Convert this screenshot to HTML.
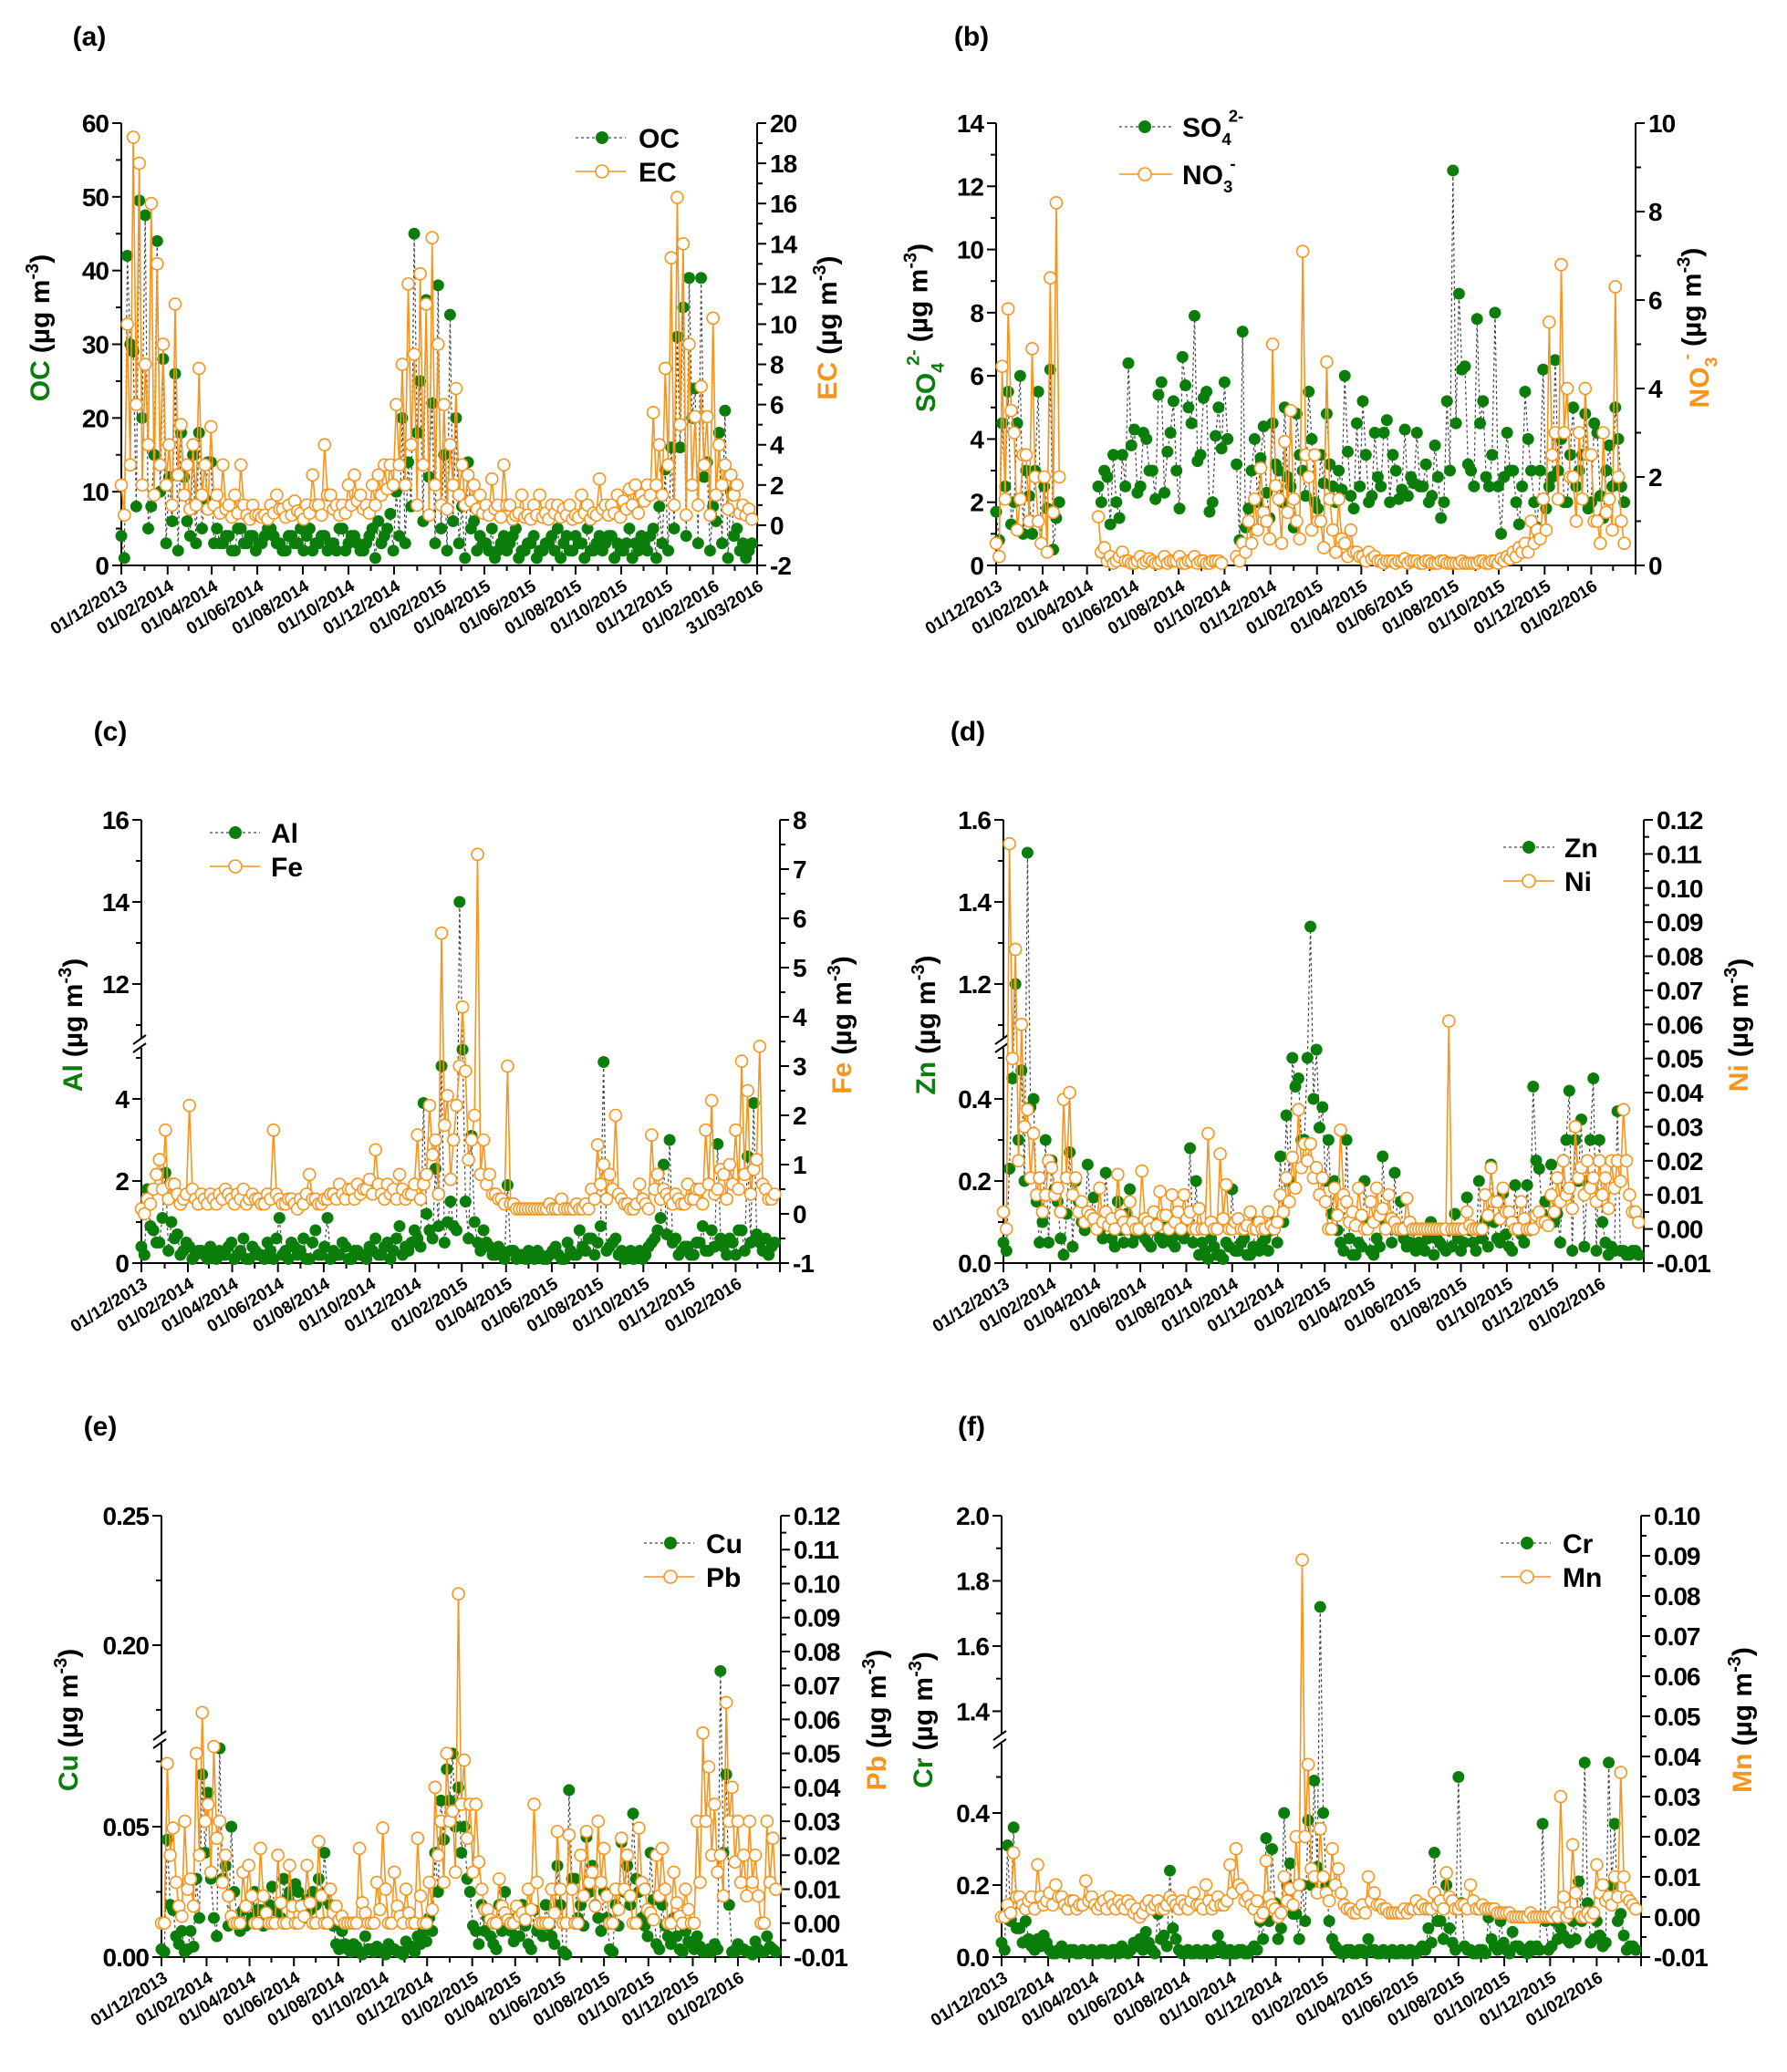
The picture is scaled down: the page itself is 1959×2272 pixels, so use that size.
<!DOCTYPE html>
<html><head><meta charset="utf-8"><style>
html,body{margin:0;padding:0;background:#fff}
svg{display:block;font-family:"Liberation Sans",Arial,sans-serif;font-weight:bold}
</style></head><body>
<svg id="fig" width="1959" height="2272" viewBox="0 0 1959 2272" xmlns="http://www.w3.org/2000/svg"></svg>
<script>
const days=[0,8,16,24,32,40,48,56,64,72,80,88,96,104,112,120,128,136,144,152,160,168,176,184,192,200,208,216,224,232,240,248,256,264,272,280,288,296,304,312,320,328,336,344,352,360,368,376,384,392,400,408,416,424,432,440,448,456,464,472,480,488,496,504,512,520,528,536,544,552,560,568,576,584,592,600,608,616,624,632,640,648,656,664,672,680,688,696,704,712,720,728,736,744,752,760,768,776,784,792,800,808,816,824,832,840];
const midDays=[4,12,20,28,36,44,52,60,68,76,84,92,100,108,116,124,132,140,148,156,164,172,180,188,196,204,212,220,228,236,244,252,260,268,276,284,292,300,308,316,324,332,340,348,356,364,372,380,388,396,404,412,420,428,436,444,452,460,468,476,484,492,500,508,516,524,532,540,548,556,564,572,580,588,596,604,612,620,628,636,644,652,660,668,676,684,692,700,708,716,724,732,740,748,756,764,772,780,788,796,804,812,820,828,836,844];
const tickDays=[0,62,121,182,243,304,365,427,486,547,608,669,730,792];
const tickLabels=["01/12/2013","01/02/2014","01/04/2014","01/06/2014","01/08/2014","01/10/2014","01/12/2014","01/02/2015","01/04/2015","01/06/2015","01/08/2015","01/10/2015","01/12/2015","01/02/2016"];
const minorDays=[31,90,151,212,273,334,396,455,516,577,638,699,761,821,851];
const n=null;
const ocValues=[4,42,29,49.5,47.5,8,44,28,12,26,18,6,15,18,9,14,
5,3,4,2,5,3,4,3,4,5,3,2,4,3,5,4,2,3,4,3,2,5,3,4,2,3,5,6,4,7,
10,20,14,45,25,36,22,38,15,34,20,8,14,6,4,
3,5,2,4,3,5,2,3,4,2,3,4,5,3,2,4,3,5,2,4,3,4,3,2,5,3,4,2,5,8,
13,16,31,35,39,24,39,14,8,18,21,10,5,3,2];
const ocMid=[1,30,8,20,5,15,10,3,6,2,12,4,3,5,14,3,
3,4,2,5,3,4,2,3,5,4,3,2,4,3,2,5,3,4,2,3,5,2,4,3,2,4,1,3,5,2,
4,3,8,18,6,12,3,5,2,6,3,1,5,2,3,
2,1,3,2,4,1,2,3,1,2,3,2,1,4,2,3,1,2,3,2,4,1,2,3,1,2,3,4,1,3,
2,5,16,4,20,3,12,2,6,3,1,4,2,1,3];
const ecValues=[2,10,19.3,18,8,16,13,9,4,11,5,3,4,7.8,3,4.9,
1.5,3,1,1.5,3,0.5,1,0.5,0.5,1,1.5,0.8,1,1.2,0.6,1,2.5,1,4,1.5,1,1,2,2.5,1.5,1,2,2.5,3,3,
6,8,12,8.5,12.5,11,14.3,9,6,4,6.8,3,2.5,2,1.5,
1,2.3,1,3,1,0.5,1.5,0.5,1,1.5,0.6,1,1,0.8,1,0.5,1.5,1,0.6,2.3,1,1,1.5,1.2,1.8,2,1.5,2,5.6,4,
7.8,13.3,16.3,14,9,5.4,6.9,5.4,10.3,4,3,2.5,2,1,0.8];
const ecMid=[0.5,3,6,2,4,1.5,3,2,1,2.5,1.5,0.8,1,1.5,0.8,1,
0.6,0.8,0.4,0.6,1,0.3,0.5,0.4,0.3,0.6,0.8,0.4,0.5,0.7,0.3,0.6,1,0.5,1.5,0.8,0.5,0.6,1,1.2,0.8,0.6,1,1.5,1.8,2,
3,2,4,1,3,0.5,2,1,0.8,2,1.5,1,1.2,0.8,0.6,
0.5,0.8,0.4,1,0.3,0.6,0.4,0.3,0.5,0.4,0.3,0.6,0.4,0.5,0.3,0.4,0.6,0.3,0.5,0.8,0.5,0.6,0.4,0.8,1,0.6,1.2,1.5,2,1.5,
3,1,5,0.5,2,1,3,0.5,1.5,2,0.8,1.5,0.6,0.5,0.3];
const so4Values=[1.7,4.5,5.5,2,6,3,1,5.5,2.5,6.2,1.5,n,n,n,n,n,n,
2.5,3,1.3,2,3.5,6.4,4.3,2.5,4,3,5.4,2.3,4.2,3,6.6,5,7.9,3.5,5.5,2,5,5.8,n,
3.2,7.4,1.8,4,3.4,2.3,4.5,3,5,2.5,4.8,3,5.5,2,3.5,4.8,2.5,3,6,2.2,4.5,5.2,2,4.2,2.5,4.6,3.5,2.1,4.3,2.8,
4.2,2.5,2,3.8,1.5,5.2,12.5,8.6,6.3,3,7.8,5.2,2.5,8,1,4.2,3,1.3,5.5,3,1.2,6.2,2.5,6.5,4,2,
5,3,4.8,2,4.2,1.5,3.8,5,2.5,n];
const so4Mid=[0.8,2.5,1.3,4.5,1,2.2,3,0.7,1.8,0.5,2,n,n,n,n,n,n,
2,2.8,3.5,1.5,2.5,3.8,2.3,4.2,3,2.1,5.8,3.6,5.2,1.8,5.7,4.5,3.3,5.3,1.7,4.1,3.7,4,n,
0.8,1.2,3,2,4.4,1.5,3.2,2,2.8,1.2,3.5,2.2,4,1.8,2.6,3.2,2,2.4,3.6,1.8,2.5,3.5,2.2,2.8,4.2,2,3,2.4,2.2,2.6,
2.5,3.2,2.2,2.8,2,3,4.5,6.2,3.2,2.5,4.5,2.8,3.5,2.5,2.8,3,2,2.5,4,2,3,1.8,2.8,3,2,3.5,
2.5,3.5,1.8,4.5,2.2,3,2.5,4,2,n];
const no3Values=[0.5,4.5,5.8,3,1.5,2.5,4.9,1,2,6.5,8.2,n,n,n,n,n,n,
1.1,0.4,0.2,0.1,0.3,0.1,0.05,0.2,0.1,0.1,0.05,0.2,0.1,0.1,0.05,0.1,0.2,0.1,0.05,0.1,0.1,n,n,
0.2,0.5,1,1.5,2.2,1,5,1.5,2.8,3.5,1,7.1,2,2.5,1,4.6,0.8,1.5,0.5,0.8,0.3,0.2,0.3,0.2,0.1,0.1,0.1,0.1,0.15,0.1,
0.1,0.05,0.1,0.05,0.1,0.05,0.05,0.05,0.05,0.05,0.05,0.1,0.05,0.1,0.15,0.2,0.3,0.4,0.5,1,0.8,1.5,5.5,3,6.8,4,
2,3,4,2.5,1,3,1.5,6.3,1,n];
const no3Mid=[0.2,1.5,3.5,0.8,2.5,1,2,0.5,0.3,1.2,2,n,n,n,n,n,n,
0.3,0.1,0.05,0.2,0.1,0.05,0.1,0.05,0.15,0.05,0.1,0.05,0.1,0.2,0.05,0.1,0.05,0.1,0.05,0.1,0.05,n,n,
0.1,0.3,0.5,0.8,1.2,0.6,1.8,0.5,1.2,1.5,0.6,2.5,0.8,1,0.4,1.5,0.3,0.6,0.2,0.3,0.2,0.1,0.15,0.1,0.05,0.1,0.05,0.1,0.05,0.1,
0.05,0.1,0.05,0.05,0.1,0.05,0.05,0.1,0.05,0.05,0.1,0.05,0.1,0.05,0.1,0.15,0.2,0.3,0.3,0.5,0.6,0.8,2.5,1.5,3,2,
1,1.5,2.5,1,0.5,1.2,0.8,2,0.5,n];
const alValues=[0.4,1.8,0.8,0.5,2.2,1,0.7,0.3,0.4,0.2,0.3,0.1,0.2,0.3,0.2,0.5,
0.2,0.6,0.1,0.3,0.2,0.5,0.1,1.1,0.3,0.5,0.2,0.6,0.1,0.8,0.2,1.1,0.3,0.2,0.4,0.1,0.3,0.2,0.4,0.6,0.2,0.5,0.3,0.9,0.4,0.5,
0.6,3.9,0.8,2.3,4.8,1,0.9,14,1.5,3.1,0.5,0.8,0.4,0.2,0.3,
1.9,0.3,0.2,0.1,0.2,0.3,0.1,0.2,0.4,0.1,0.5,0.2,0.8,0.3,0.6,0.5,4.9,0.4,0.6,0.3,0.2,0.1,0.3,0.2,0.5,0.8,2.4,3,0.6,0.3,
0.4,0.2,0.5,0.3,0.8,2.9,0.4,0.6,0.2,0.8,2.6,3.9,0.5,0.6,0.4];
const alMid=[0.2,0.9,0.5,1.1,0.3,0.6,0.2,0.5,0.1,0.3,0.2,0.4,0.1,0.2,0.4,0.1,
0.3,0.1,0.4,0.2,0.1,0.3,0.6,0.2,0.1,0.4,0.3,0.1,0.5,0.2,0.4,0.1,0.2,0.5,0.1,0.3,0.2,0.1,0.3,0.2,0.4,0.1,0.6,0.2,0.3,0.8,
0.4,1.2,0.6,0.9,0.5,1.5,0.8,5.2,0.6,1,0.3,0.5,0.2,0.4,0.1,
0.3,0.1,0.2,0.3,0.1,0.2,0.1,0.3,0.2,0.1,0.3,0.2,0.4,0.6,0.2,0.9,0.3,0.5,0.2,0.1,0.3,0.2,0.1,0.4,0.6,1.1,0.7,0.5,0.2,0.4,
0.2,0.5,0.9,0.3,0.4,0.6,0.2,0.5,0.8,0.3,0.5,0.7,0.3,0.2,0.5];
const feValues=[0.1,0.3,0.5,1.1,1.7,0.6,0.4,0.3,2.2,0.3,0.4,0.2,0.3,0.4,0.5,0.3,
0.4,0.5,0.3,0.3,0.2,0.4,1.7,0.3,0.2,0.3,0.1,0.2,0.8,0.3,0.2,0.3,0.4,0.6,0.3,0.5,0.6,0.5,0.7,1.3,0.4,0.6,0.5,0.8,0.3,0.4,
1.6,0.6,2.2,1.5,5.7,2.4,1.5,3,2.9,1.5,7.3,1.5,0.8,0.4,0.3,
3,0.2,0.1,0.1,0.1,0.1,0.1,0.2,0.1,0.3,0.1,0.1,0.1,0.2,0.5,1.4,1,0.8,2,0.3,0.2,0.1,0.6,0.2,1.6,0.8,0.5,0.3,0.4,0.2,
0.6,0.3,0.5,1.7,2.3,0.5,0.8,1,1.7,3.1,2.5,0.9,3.4,0.5,0.3];
const feMid=[0,0.2,0.8,0.5,0.3,0.6,0.2,0.4,0.5,0.2,0.3,0.4,0.2,0.3,0.4,0.2,
0.3,0.2,0.4,0.3,0.2,0.3,0.4,0.2,0.3,0.2,0.3,0.4,0.3,0.2,0.3,0.4,0.3,0.4,0.5,0.3,0.4,0.5,0.4,0.6,0.3,0.4,0.3,0.5,0.4,0.6,
0.3,0.8,1.2,0.4,1.8,0.7,2.2,4.2,1.1,2,0.8,0.6,0.4,0.3,0.2,
0.2,0.1,0.1,0.1,0.1,0.1,0.1,0.1,0.1,0.1,0.1,0.2,0.1,0.1,0.3,0.6,0.3,0.5,0.4,0.2,0.1,0.2,0.3,0.1,0.5,0.3,0.4,0.2,0.3,0.2,
0.3,0.5,0.2,0.6,0.4,0.9,0.3,0.6,0.5,0.8,0.4,1.1,0.6,0.3,0.4];
const znValues=[0.05,0.23,1.2,0.47,1.52,0.4,0.05,0.3,0.25,0.15,0.02,0.27,0.2,0.1,0.24,0.16,
0.08,0.22,0.06,0.15,0.05,0.18,0.07,0.1,0.05,0.08,0.06,0.1,0.05,0.07,0.06,0.28,0.2,0.05,0.01,0.04,0.02,0.05,0.18,0.03,0.06,0.02,0.1,0.05,0.03,0.1,
0.26,0.36,0.5,0.45,0.3,1.34,0.52,0.38,0.3,0.2,0.05,0.3,0.02,0.05,0.2,
0.03,0.06,0.26,0.1,0.22,0.15,0.04,0.08,0.05,0.03,0.1,0.06,0.04,0.08,0.12,0.03,0.16,0.05,0.2,0.1,0.24,0.06,0.17,0.04,0.19,0.07,0.19,0.43,0.23,0.15,
0.24,0.12,0.25,0.42,0.3,0.35,0.2,0.45,0.3,0.05,0.04,0.37,0.03,0.02,0.03];
const znMid=[0.03,0.45,0.3,0.2,0.38,0.15,0.1,0.05,0.18,0.06,0.12,0.04,0.15,0.08,0.12,0.1,
0.06,0.1,0.04,0.08,0.12,0.05,0.09,0.06,0.04,0.1,0.05,0.07,0.04,0.12,0.08,0.05,0.02,0.03,0.06,0.02,0.01,0.04,0.03,0.05,0.02,0.04,0.03,0.06,0.08,0.05,
0.1,0.2,0.43,0.3,0.5,0.4,0.33,0.2,0.12,0.08,0.03,0.06,0.02,0.04,0.1,
0.02,0.04,0.1,0.05,0.08,0.06,0.05,0.03,0.04,0.06,0.02,0.05,0.03,0.04,0.06,0.05,0.08,0.03,0.06,0.04,0.1,0.05,0.07,0.03,0.1,0.05,0.08,0.25,0.12,0.1,
0.1,0.05,0.3,0.03,0.2,0.04,0.3,0.03,0.1,0.02,0.03,0.03,0.02,0.03,0.02];
const niValues=[0.005,0.113,0.082,0.06,0.035,0.028,0.015,0.01,0.018,0.012,0.038,0.04,0.015,0.008,0.005,0.003,
0.012,0.005,0.003,0.016,0.002,0.008,0,0.017,0.002,0.005,0.011,0.004,0.01,0.005,0.01,0.005,0,0,0.028,0,0.022,0.013,0,0.003,0,0.005,0,0,0.005,0,
0.01,0.015,0.021,0.035,0.025,0.025,0.018,0.015,0,0.012,0.029,0.008,0.005,0.012,0,
0.008,0.012,0.006,0.01,0.002,0,0.009,0,0,0,0,0,0,0.061,0,0,0.005,0,0,0.01,0.018,0.008,0.012,0.005,0,0.008,0,0,0.005,0.002,
0.01,0.015,0.02,0.012,0.03,0.018,0.02,0.015,0.02,0.015,0.02,0.02,0.035,0.01,0.005];
const niMid=[0,0.05,0.02,0.03,0.015,0.01,0.005,0.02,0.01,0.005,0.015,0.01,0.005,0.002,0.004,0,
0.002,0.001,0,0.004,0,0.002,0,0.003,0,0.001,0.004,0,0.002,0,0.003,0,0.006,0,0.002,0,0.003,0,0.002,0,0.001,0,0.002,0,0.001,0.002,
0.005,0.008,0.012,0.018,0.02,0.015,0.01,0.008,0,0.004,0.01,0.002,0.001,0.004,0,
0.002,0.004,0,0.003,0,0,0.002,0,0,0,0,0,0,0,0,0,0.001,0,0,0.004,0.008,0.003,0.005,0.002,0,0.003,0,0.004,0.002,0.001,
0.005,0.008,0.01,0.006,0.015,0.01,0.012,0.008,0.01,0.006,0.012,0.014,0.02,0.005,0.002];
const cuValues=[0.003,0.045,0.018,0.005,0.002,0.01,0.03,0.07,0.063,0.015,0.08,0.035,0.05,0.015,0.018,0.02,
0.025,0.018,0.015,0.027,0.02,0.03,0.025,0.028,0.02,0.022,0.025,0.03,0.04,0.02,0.005,0.01,0.003,0.005,0.002,0.008,0.003,0.004,0.002,0.005,0.003,0.002,0.006,0.004,0.008,0.01,
0.015,0.04,0.06,0.072,0.078,0.065,0.05,0.025,0.01,0.02,0.015,0.005,0.02,0.025,0.01,
0.015,0.02,0.005,0.018,0.012,0.02,0.008,0.035,0.002,0.064,0.03,0.02,0.046,0.035,0.015,0.025,0.003,0.02,0.044,0.035,0.055,0.025,0.012,0.04,0.005,0.02,0.008,0.015,0.003,0.01,
0.005,0.008,0.002,0.003,0.005,0.19,0.07,0.002,0.005,0.003,0.002,0.006,0.002,0.008,0.003];
const cuMid=[0.002,0.02,0.008,0.01,0.003,0.004,0.015,0.04,0.03,0.008,0.03,0.012,0.025,0.01,0.012,0.015,
0.018,0.012,0.02,0.018,0.015,0.022,0.02,0.025,0.015,0.018,0.02,0.022,0.025,0.012,0.003,0.005,0.002,0.004,0.001,0.003,0.002,0.003,0.001,0.003,0.002,0.001,0.004,0.002,0.005,0.006,
0.01,0.025,0.045,0.06,0.05,0.04,0.03,0.012,0.005,0.01,0.008,0.003,0.01,0.015,0.006,
0.008,0.012,0.003,0.01,0.008,0.012,0.005,0.02,0.001,0.03,0.015,0.012,0.025,0.02,0.01,0.015,0.002,0.012,0.025,0.02,0.03,0.015,0.008,0.022,0.003,0.012,0.005,0.008,0.002,0.006,
0.003,0.004,0.002,0.002,0.003,0.04,0.02,0.002,0.003,0.002,0.001,0.003,0.002,0.004,0.002];
const pbValues=[0,0.047,0.028,0.005,0.03,0.013,0.05,0.062,0.035,0.052,0.03,0.02,0.002,0,0.015,0.017,
0,0.022,0.003,0,0.02,0,0.017,0,0.005,0.017,0,0.024,0,0.01,0.005,0.002,0,0,0.022,0.003,0,0.012,0.028,0,0.015,0.002,0.01,0,0.025,0,
0.012,0.04,0.03,0.05,0.033,0.097,0.048,0.035,0.035,0.01,0.004,0,0.013,0.003,0,
0.005,0.003,0.01,0.035,0,0,0.01,0.027,0,0.026,0,0.02,0.027,0.015,0.03,0.022,0,0.01,0.025,0.02,0,0.028,0.01,0.003,0.02,0.022,0,0.015,0.002,0.01,
0,0.03,0.056,0.046,0.035,0.02,0.065,0.04,0.03,0.02,0.03,0.02,0,0.03,0.025];
const pbMid=[0,0.02,0.012,0.002,0.01,0.005,0.02,0.03,0.015,0.025,0.012,0.008,0,0,0.005,0.008,
0,0.008,0,0,0.006,0,0.005,0,0.002,0.006,0,0.008,0,0.003,0.001,0,0,0,0.006,0,0,0.004,0.01,0,0.005,0,0.003,0,0.008,0,
0.004,0.02,0.012,0.03,0.015,0.035,0.025,0.015,0.018,0.004,0.001,0,0.005,0.001,0,
0.002,0.001,0.004,0.012,0,0,0.003,0.01,0,0.01,0,0.008,0.012,0.005,0.012,0.008,0,0.004,0.01,0.008,0,0.012,0.004,0.001,0.008,0.01,0,0.006,0,0.004,
0,0.012,0.03,0.02,0.015,0.008,0.03,0.018,0.012,0.008,0.012,0.008,0,0.012,0.01];
const crValues=[0.04,0.31,0.36,0.08,0.1,0.03,0.05,0.06,0.02,0.01,0.03,0.01,0.02,0.01,0.015,0.02,
0.01,0.02,0.01,0.02,0.03,0.01,0.04,0.05,0.07,0.02,0.12,0.06,0.24,0.05,0.01,0.02,0.01,0.01,0.02,0.01,0.06,0.01,0.02,0.01,0.02,0.01,0.03,0.1,0.33,0.3,
0.05,0.4,0.26,0.12,0.2,0.38,0.49,1.72,0.2,0.05,0.02,0.01,0.02,0.01,0.02,
0.05,0.02,0.01,0.01,0.02,0.01,0.01,0.02,0.01,0.03,0.08,0.29,0.1,0.2,0.04,0.5,0.03,0.02,0.01,0.02,0.11,0.03,0.1,0.02,0.07,0.03,0.02,0.03,0.03,0.37,
0.02,0.1,0.08,0.05,0.1,0.21,0.54,0.04,0.1,0.03,0.54,0.37,0.12,0.02,0.03];
const crMid=[0.02,0.1,0.08,0.04,0.05,0.02,0.03,0.04,0.01,0.02,0.01,0.02,0.01,0.02,0.01,0.01,
0.02,0.01,0.02,0.01,0.02,0.02,0.03,0.02,0.04,0.01,0.05,0.03,0.08,0.02,0.01,0.01,0.02,0.01,0.01,0.02,0.03,0.01,0.01,0.02,0.01,0.02,0.02,0.05,0.1,0.15,
0.08,0.2,0.12,0.05,0.1,0.2,0.25,0.4,0.1,0.03,0.01,0.02,0.01,0.02,0.01,
0.02,0.01,0.02,0.01,0.01,0.02,0.01,0.01,0.02,0.02,0.04,0.1,0.05,0.08,0.02,0.15,0.02,0.01,0.02,0.01,0.05,0.02,0.04,0.01,0.03,0.02,0.01,0.02,0.02,0.1,
0.03,0.05,0.06,0.04,0.05,0.1,0.15,0.05,0.06,0.04,0.2,0.1,0.06,0.03,0.02];
const mnValues=[0,0.003,0.016,0.005,0.002,0.005,0.013,0.003,0.006,0.008,0.005,0.002,0.004,0.003,0.009,0.005,
0.002,0.004,0.005,0.002,0.003,0.004,0.001,0,0.003,0.002,0.004,0.002,0.005,0.003,0.004,0.002,0.006,0.003,0.008,0.002,0.005,0.003,0.013,0.017,0.007,0.005,0.002,0,0.014,0.003,
0,0.01,0.007,0.02,0.089,0.038,0.01,0.022,0.006,0.017,0.012,0.003,0.002,0.001,0.003,
0.01,0.006,0.003,0.002,0.001,0.001,0.002,0.002,0.004,0.003,0.002,0.006,0.004,0.011,0.004,0.002,0.003,0.008,0.002,0.003,0.002,0.002,0.001,0.001,0,0,0,0.001,0,0,
0,0.001,0.03,0,0.018,0.001,0,0,0.013,0.008,0.005,0.01,0.036,0.005,0.003];
const mnMid=[0,0.001,0.005,0.003,0.004,0.002,0.005,0.004,0.003,0.005,0.003,0.004,0.002,0.003,0.004,0.003,
0.003,0.002,0.003,0.004,0.002,0.003,0.002,0.001,0.004,0.003,0.002,0.003,0.004,0.002,0.003,0.004,0.003,0.002,0.004,0.003,0.003,0.004,0.006,0.008,0.004,0.003,0.004,0.001,0.005,0.002,
0.001,0.004,0.003,0.008,0.02,0.012,0.006,0.01,0.004,0.008,0.006,0.002,0.001,0.002,0.001,
0.004,0.003,0.002,0.001,0.001,0.001,0.001,0.002,0.002,0.002,0.002,0.003,0.002,0.005,0.002,0.003,0.002,0.004,0.002,0.002,0.002,0.001,0.001,0.001,0,0,0,0,0,0,
0,0,0.005,0.001,0.006,0,0.001,0.001,0.006,0.004,0.003,0.005,0.01,0.004,0.002];

const NS="http://www.w3.org/2000/svg";
const svg=document.getElementById('fig');
const GREEN="#0b7d0b", ORANGE="#f7941d";
function mk(tag,attrs,parent){const e=document.createElementNS(NS,tag);for(const k in attrs)e.setAttribute(k,attrs[k]);(parent||svg).appendChild(e);return e;}

const panels=[
 {id:'a',label:'(a)',lx:98,ly:50,x0:133,x1:830,y0:135,y1:620,
  left:[{v0:0,v1:60,p0:620,p1:135}],lMaj:[0,10,20,30,40,50,60],lMin:[5,15,25,35,45,55],lDec:0,
  rMin:-2,rMax:20,rMaj:[-2,0,2,4,6,8,10,12,14,16,18,20],rMinor:[-1,1,3,5,7,9,11,13,15,17,19],rDec:0,
  g:ocValues,gm:ocMid,o:ecValues,om:ecMid,gName:'OC',oName:'EC',lt:44,rt:907,leg:{l0:631,l1:686,m:660,t:700,y1:151,y2:188},lastLabel:true},
 {id:'b',label:'(b)',lx:1065,ly:50,x0:1092,x1:1793,y0:135,y1:620,
  left:[{v0:0,v1:14,p0:620,p1:135}],lMaj:[0,2,4,6,8,10,12,14],lMin:[1,3,5,7,9,11,13],lDec:0,
  rMin:0,rMax:10,rMaj:[0,2,4,6,8,10],rMinor:[1,3,5,7,9],rDec:0,
  g:so4Values,gm:so4Mid,o:no3Values,om:no3Mid,gName:'SO4',oName:'NO3',lt:1015,rt:1863,leg:{l0:1227,l1:1285,m:1255,t:1296,y1:139,y2:191}},
 {id:'c',label:'(c)',lx:121,ly:812,x0:155,x1:855,y0:899,y1:1385,
  left:[{v0:0,v1:5.3,p0:1385,p1:1146.5},{v0:10.6,v1:16,p0:1142,p1:899}],lMaj:[0,2,4,12,14,16],lMin:[1,3,5,11,13,15],lDec:0,brk:1144,
  rMin:-1,rMax:8,rMaj:[-1,0,1,2,3,4,5,6,7,8],rMinor:[-0.5,0.5,1.5,2.5,3.5,4.5,5.5,6.5,7.5],rDec:0,
  g:alValues,gm:alMid,o:feValues,om:feMid,gName:'Al',oName:'Fe',lt:80,rt:923,leg:{l0:230,l1:285,m:258,t:297,y1:913,y2:950}},
 {id:'d',label:'(d)',lx:1061,ly:812,x0:1100,x1:1802,y0:899,y1:1385,
  left:[{v0:0,v1:0.53,p0:1385,p1:1146.5},{v0:1.06,v1:1.6,p0:1142,p1:899}],lMaj:[0,0.2,0.4,1.2,1.4,1.6],lMin:[0.1,0.3,0.5,1.1,1.3,1.5],lDec:1,brk:1144,
  rMin:-0.01,rMax:0.12,rMaj:[-0.01,0,0.01,0.02,0.03,0.04,0.05,0.06,0.07,0.08,0.09,0.10,0.11,0.12],rMinor:[-0.005,0.005,0.015,0.025,0.035,0.045,0.055,0.065,0.075,0.085,0.095,0.105,0.115],rDec:2,
  g:znValues,gm:znMid,o:niValues,om:niMid,gName:'Zn',oName:'Ni',lt:1015,rt:1906,leg:{l0:1648,l1:1704,m:1676,t:1715,y1:929,y2:966}},
 {id:'e',label:'(e)',lx:110,ly:1574,x0:177,x1:856,y0:1662,y1:2146,
  left:[{v0:0,v1:0.0825,p0:2146,p1:1910},{v0:0.1644,v1:0.25,p0:1905,p1:1662}],lMaj:[0,0.05,0.20,0.25],lMin:[0.025,0.075,0.175,0.225],lDec:2,brk:1907,
  rMin:-0.01,rMax:0.12,rMaj:[-0.01,0,0.01,0.02,0.03,0.04,0.05,0.06,0.07,0.08,0.09,0.10,0.11,0.12],rMinor:[-0.005,0.005,0.015,0.025,0.035,0.045,0.055,0.065,0.075,0.085,0.095,0.105,0.115],rDec:2,
  g:cuValues,gm:cuMid,o:pbValues,om:pbMid,gName:'Cu',oName:'Pb',lt:75,rt:961,leg:{l0:706,l1:761,m:735,t:774,y1:1692,y2:1729}},
 {id:'f',label:'(f)',lx:1065,ly:1574,x0:1098,x1:1799,y0:1662,y1:2146,
  left:[{v0:0,v1:0.6,p0:2146,p1:1909},{v0:1.32,v1:2.0,p0:1905,p1:1662}],lMaj:[0,0.2,0.4,1.4,1.6,1.8,2.0],lMin:[0.1,0.3,0.5,1.5,1.7,1.9],lDec:1,brk:1907,
  rMin:-0.01,rMax:0.10,rMaj:[-0.01,0,0.01,0.02,0.03,0.04,0.05,0.06,0.07,0.08,0.09,0.10],rMinor:[-0.005,0.005,0.015,0.025,0.035,0.045,0.055,0.065,0.075,0.085,0.095],rDec:2,
  g:crValues,gm:crMid,o:mnValues,om:mnMid,gName:'Cr',oName:'Mn',lt:1012,rt:1910,leg:{l0:1645,l1:1700,m:1674,t:1713,y1:1692,y2:1729}}
];

function nameSpans(t,name,color,size){
  if(name==='SO4'){
    const a=mk('tspan',{fill:color},t);a.textContent='SO';
    const b=mk('tspan',{fill:color,'font-size':size*0.62,dy:size*0.3},t);b.textContent='4';
    const c=mk('tspan',{fill:color,'font-size':size*0.62,dy:-size*0.85,dx:-size*0.1},t);c.textContent='2-';
  } else if(name==='NO3'){
    const a=mk('tspan',{fill:color},t);a.textContent='NO';
    const b=mk('tspan',{fill:color,'font-size':size*0.62,dy:size*0.3},t);b.textContent='3';
    const c=mk('tspan',{fill:color,'font-size':size*0.62,dy:-size*0.85,dx:-size*0.1},t);c.textContent='-';
  } else {const a=mk('tspan',{fill:color},t);a.textContent=name;}
}

function merge(main,mid){const pts=[];for(let i=0;i<days.length;i++){pts.push([days[i],main[i]===undefined?null:main[i]]);pts.push([midDays[i],mid[i]===undefined?null:mid[i]]);}return pts;}

panels.forEach(P=>{
  const g=mk('g',{});
  
  
  const xs=d=>P.x0+d/851*(P.x1-P.x0);
  const yl=v=>{const s=P.left;for(const seg of s){if(v<=seg.v1||seg===s[s.length-1]){if(v<seg.v0&&seg!==s[0])return seg.p0;const vv=Math.min(v,seg.v1);return seg.p0+(vv-seg.v0)/(seg.v1-seg.v0)*(seg.p1-seg.p0);}}};
  const yl2=v=>{const s=P.left;if(s.length>1&&v>s[0].v1&&v<s[1].v0)return s[0].p1;return yl(v);};
  const yr=v=>P.y1+(v-P.rMin)/(P.rMax-P.rMin)*(P.y0-P.y1);

  const pl=mk('text',{x:P.lx,y:P.ly,'font-size':30,'text-anchor':'middle'},g);pl.textContent=P.label;
  

  const ax=mk('g',{stroke:'#000','stroke-width':2,fill:'none'},g);
  
  if(P.brk){
    mk('line',{x1:P.x0,y1:P.y1,x2:P.x0,y2:P.brk+5},ax);
    mk('line',{x1:P.x0,y1:P.brk-5,x2:P.x0,y2:P.y0},ax);
    mk('line',{x1:P.x0-9,y1:P.brk+1,x2:P.x0+5,y2:P.brk-9},ax);
    mk('line',{x1:P.x0-9,y1:P.brk+10,x2:P.x0+5,y2:P.brk},ax);
  } else mk('line',{x1:P.x0,y1:P.y1,x2:P.x0,y2:P.y0},ax);
  mk('line',{x1:P.x1,y1:P.y1,x2:P.x1,y2:P.y0},ax);
  mk('line',{x1:P.x0,y1:P.y1,x2:P.x1,y2:P.y1},ax);

  const tl=mk('g',{'font-size':28,'text-anchor':'end'},g);
  
  P.lMaj.forEach(v=>{const y=yl(v);mk('line',{x1:P.x0-10,y1:y,x2:P.x0,y2:y,stroke:'#000','stroke-width':2},tl);
    const t=mk('text',{x:P.x0-14,y:y+10,'letter-spacing':-1},tl);t.textContent=v.toFixed(P.lDec);});
  P.lMin.forEach(v=>{const y=yl(v);mk('line',{x1:P.x0-6,y1:y,x2:P.x0,y2:y,stroke:'#000','stroke-width':2},tl);});
  const tr=mk('g',{'font-size':28,'text-anchor':'start'},g);
  
  P.rMaj.forEach(v=>{const y=yr(v);mk('line',{x1:P.x1,y1:y,x2:P.x1+10,y2:y,stroke:'#000','stroke-width':2},tr);
    const t=mk('text',{x:P.x1+14,y:y+10,'letter-spacing':-1},tr);t.textContent=v.toFixed(P.rDec);});
  P.rMinor.forEach(v=>{const y=yr(v);mk('line',{x1:P.x1,y1:y,x2:P.x1+6,y2:y,stroke:'#000','stroke-width':2},tr);});

  const tx=mk('g',{'font-size':19,'text-anchor':'end'},g);
  
  tickDays.forEach((d,i)=>{const x=xs(d);mk('line',{x1:x,y1:P.y1,x2:x,y2:P.y1+10,stroke:'#000','stroke-width':2},tx);
    const t=mk('text',{x:x+8,y:P.y1+26,transform:`rotate(-32 ${x+8} ${P.y1+26})`},tx);t.textContent=tickLabels[i];});
  minorDays.forEach(d=>{const x=xs(d);mk('line',{x1:x,y1:P.y1,x2:x,y2:P.y1+(d===851?10:6),stroke:'#000','stroke-width':2},tx);});
  if(P.lastLabel){const x=xs(851);const t=mk('text',{x:x+8,y:P.y1+26,transform:`rotate(-32 ${x+8} ${P.y1+26})`},tx);t.textContent='31/03/2016';}

  const cy=(P.y0+P.y1)/2-18;
  const lt=mk('text',{x:P.lt,y:cy,'font-size':30,'text-anchor':'middle',transform:`rotate(-90 ${P.lt} ${cy})`,dy:10},g);
  
  nameSpans(lt,P.gName,GREEN,32);
  const u1=mk('tspan',{dx:8,dy:P.gName==='SO4'?9:0},lt);u1.textContent='(µg m';
  const s1=mk('tspan',{'font-size':20,dy:-12},lt);s1.textContent='-3';
  const e1=mk('tspan',{dy:12},lt);e1.textContent=')';
  const rt=mk('text',{x:P.rt,y:cy,'font-size':30,'text-anchor':'middle',transform:`rotate(-90 ${P.rt} ${cy})`,dy:10},g);
  
  nameSpans(rt,P.oName,ORANGE,32);
  const u2=mk('tspan',{dx:8,dy:P.oName==='NO3'?9:0},rt);u2.textContent='(µg m';
  const s2=mk('tspan',{'font-size':20,dy:-12},rt);s2.textContent='-3';
  const e2=mk('tspan',{dy:12},rt);e2.textContent=')';

  function path(pts,yf){let d='',pen=false;pts.forEach(([day,v])=>{if(v===null){pen=false;return;}
    const x=xs(day),y=yf(v);d+=(pen?'L':'M')+x.toFixed(1)+' '+y.toFixed(1);pen=true;});return d;}
  const gp=merge(P.g,P.gm), op=merge(P.o,P.om);
  const gs=mk('g',{},g);
  
  mk('path',{d:path(gp,yl2),fill:'none',stroke:'#444','stroke-width':1.2,'stroke-dasharray':'3,3'},gs);
  gp.forEach(([day,v])=>{if(v===null)return;const c=mk('circle',{cx:xs(day),cy:yl2(v),r:6.5,fill:GREEN},gs);
    
    });
  const os=mk('g',{},g);
  
  mk('path',{d:path(op,yr),fill:'none',stroke:ORANGE,'stroke-width':1.6},os);
  op.forEach(([day,v])=>{if(v===null)return;const c=mk('circle',{cx:xs(day),cy:yr(v),r:6.5,fill:'#fff',stroke:ORANGE,'stroke-width':1.6},os);
    
    });

  const L=P.leg;
  const lg=mk('g',{'font-size':30},g);
  
  const le1=mk('g',{},lg);
  mk('line',{x1:L.l0,y1:L.y1,x2:L.l1,y2:L.y1,stroke:'#444','stroke-width':1.2,'stroke-dasharray':'3,3'},le1);
  mk('circle',{cx:L.m,cy:L.y1,r:7,fill:GREEN},le1);
  const t1=mk('text',{x:L.t,y:L.y1+11},le1);nameSpans(t1,P.gName,'#000',30);
  const le2=mk('g',{},lg);
  mk('line',{x1:L.l0,y1:L.y2,x2:L.l1,y2:L.y2,stroke:ORANGE,'stroke-width':1.6},le2);
  mk('circle',{cx:L.m,cy:L.y2,r:7,fill:'#fff',stroke:ORANGE,'stroke-width':1.6},le2);
  const t2=mk('text',{x:L.t,y:L.y2+11},le2);nameSpans(t2,P.oName,'#000',30);
});
</script>
</body></html>
